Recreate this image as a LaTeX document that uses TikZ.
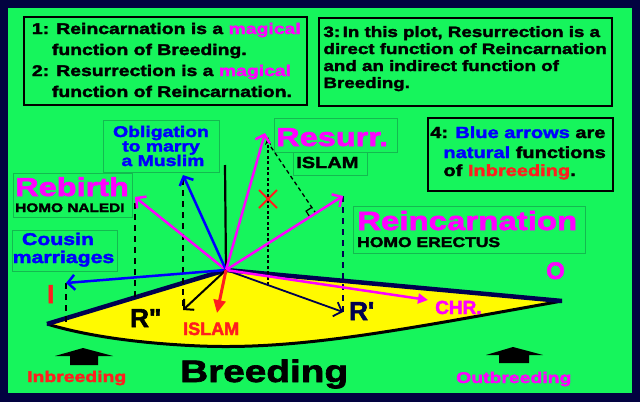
\documentclass[tikz,border=0pt]{standalone}
\usepackage{fontspec}
\usetikzlibrary{arrows.meta,calc}
\newfontfamily\wf{Liberation Sans}[FakeStretch=1.25, BoldFeatures={FakeBold=2.2}]
\newfontfamily\nf{Liberation Sans}[BoldFeatures={FakeBold=2.2}]
\newcommand\setfs[1]{\fontsize{#1}{#1}\selectfont}
\definecolor{bg}{RGB}{22,245,92}
\definecolor{frame}{RGB}{2,2,64}
\definecolor{mag}{RGB}{255,0,255}
\definecolor{blu}{RGB}{0,0,255}
\definecolor{rd}{RGB}{255,30,30}
\definecolor{yel}{RGB}{255,250,0}
\definecolor{boxln}{RGB}{20,185,80}
\definecolor{navy}{RGB}{0,0,80}
\tikzset{
  t/.style={inner sep=0pt, anchor=base west},
  tc/.style={inner sep=0pt, anchor=base},
  blackbox/.style={draw=black, line width=1.6pt, inner sep=0pt, anchor=north west},
  greenbox/.style={draw=boxln, line width=0.8pt, inner sep=0pt, anchor=north west},
  vhead/.style={-{Straight Barb[length=7pt,width=15pt]}},
  magarrow/.style={draw=mag, line width=2.5pt, vhead},
  bluarrow/.style={draw=blu, line width=2.5pt, vhead},
  proj/.style={draw=black, line width=2.6pt, dash pattern=on 6pt off 5pt},
}
\begin{document}
\begin{tikzpicture}[x=1pt,y=-1pt]
\useasboundingbox (0,0) rectangle (640,402);
\fill[frame] (0,0) rectangle (640,402);
\fill[bg] (8,8) rectangle (632,393);

% ---------- text boxes ----------
\node[blackbox, minimum width=283pt, minimum height=88pt] (b1) at (23,16) {};
\node[t, font=\wf\bfseries\setfs{15.5}] (b1l1) at (31.7,34) {1: Reincarnation is a \textcolor{mag}{magical}};
\node[t, font=\wf\bfseries\setfs{15.5}] (b1l2) at (51.7,55) {function of Breeding.};
\node[t, font=\wf\bfseries\setfs{15.5}] (b1l3) at (31.7,76) {2: Resurrection is a \textcolor{mag}{magical}};
\node[t, font=\wf\bfseries\setfs{15.5}] (b1l4) at (51.7,97) {function of Reincarnation.};

\node[blackbox, minimum width=293pt, minimum height=88pt] (b3) at (318,17) {};
\node[t, font=\wf\bfseries\setfs{15}] (b3l1) at (323.3,37) {3:\,In this plot, Resurrection is a};
\node[t, font=\wf\bfseries\setfs{15}] (b3l2) at (323.3,54) {direct function of Reincarnation};
\node[t, font=\wf\bfseries\setfs{15}] (b3l3) at (323.3,71) {and an indirect function of};
\node[t, font=\wf\bfseries\setfs{15}] (b3l4) at (323.3,88) {Breeding.};

\node[blackbox, minimum width=185pt, minimum height=73pt] (b4) at (427,117) {};
\node[t, font=\wf\bfseries\setfs{16}] (b4l1) at (430,138) {4: \textcolor{blu}{Blue arrows} are};
\node[t, font=\wf\bfseries\setfs{16}] (b4l2) at (443.3,158) {\textcolor{blu}{natural} functions};
\node[t, font=\wf\bfseries\setfs{16}] (b4l3) at (443.3,176) {of \textcolor{rd}{Inbreeding}.};

% ---------- label boxes ----------
\node[greenbox, minimum width=116pt, minimum height=52pt] (obox) at (103,120) {};
\node[tc, font=\wf\bfseries\setfs{15.5}, text=blu] (ol1) at (161,137) {Obligation};
\node[tc, font=\wf\bfseries\setfs{15.5}, text=blu] (ol2) at (161,151.5) {to marry};
\node[tc, font=\wf\bfseries\setfs{15.5}, text=blu] (ol3) at (163,166) {a Muslim};

\node[greenbox, minimum width=119pt, minimum height=44pt] (rbbox) at (13,173) {};
\node[t, font=\wf\bfseries\setfs{26}, text=mag] (rb) at (15,196) {Rebirth};
\node[t, font=\wf\bfseries\setfs{12.3}] (hn) at (15,212) {HOMO NALEDI};

\node[greenbox, minimum width=105pt, minimum height=41pt] (cbox) at (12,230) {};
\node[tc, font=\wf\bfseries\setfs{17}, text=blu] (cl1) at (58,245) {Cousin};
\node[tc, font=\wf\bfseries\setfs{17}, text=blu] (cl2) at (63.5,263) {marriages};

\node[greenbox, minimum width=123pt, minimum height=34pt] (rsbox) at (274,118) {};
\node[t, font=\wf\bfseries\setfs{26}, text=mag] (rs) at (276,146) {Resurr.};
\node[greenbox, minimum width=74pt, minimum height=23pt] (isbox) at (293,152) {};
\node[t, font=\wf\bfseries\setfs{16}] (is) at (296,168) {ISLAM};

\node[greenbox, minimum width=232pt, minimum height=47pt] (rcbox) at (353,206) {};
\node[t, font=\wf\bfseries\setfs{26.4}, text=mag] (rc) at (357,230) {Reincarnation};
\node[t, font=\wf\bfseries\setfs{14}] (he) at (357,247) {HOMO ERECTUS};

% ---------- key points ----------
\coordinate (C) at (226,270);
\coordinate (Pres) at (265,133);
\coordinate (Prein) at (343,196);
\coordinate (Preb) at (135,197);
\coordinate (Pobl) at (183,175);
\coordinate (PI) at (66,283);
\coordinate (Pup) at (225,165);
\coordinate (PRpp) at (183,310);
\coordinate (PRp) at (343,312);
\coordinate (Pchr) at (428,300);
\coordinate (Pislam) at (217,313);
\coordinate (Ltip) at (47,324);
\coordinate (Rtip) at (562,301);
\coordinate (Ptop) at (268,137);
\coordinate (Pbot) at (268,285);

% ---------- lens ----------
\fill[yel] (Ltip) -- (C) -- (Rtip) .. controls (400,330) and (300,350) .. (200,346)
   .. controls (130,343) and (80,334) .. (Ltip) -- cycle;
\draw[black, line width=3pt] (Rtip) .. controls (400,330) and (300,350) .. (200,346)
   .. controls (130,343) and (80,334) .. (Ltip);
\draw[navy, line width=4.5pt, line join=round] (Ltip) -- (C) -- (Rtip);

% ---------- projections ----------
\draw[proj] (Preb) ++(0,6) coordinate (Preb2) (Preb2) -- (135,300) coordinate (Rbfoot);
\draw[proj] (Pobl) ++(0,4) coordinate (Pobl2) (Pobl2) -- (PRpp);
\draw[proj] (PI) -- (66,322) coordinate (Ifoot);
\draw[navy, line width=2.6pt, dash pattern=on 6pt off 5pt] (Prein) -- (PRp);
\draw[black, line width=1.6pt, dash pattern=on 3pt off 2.5pt, -{Stealth[length=8pt,width=6pt]}] (Pbot) -- (Ptop);
\coordinate (F) at ($(C)!(Pres)!(Prein)$);
\draw[black, line width=1.3pt, dash pattern=on 4pt off 3pt] (Ptop) ++(3,10) coordinate (Pd) (Pd) -- (F);
\coordinate (Fa) at ($(F)!7pt!(C)$);
\coordinate (Fb) at ($(F)!7pt!(Pres)$);
\draw[black, line width=1.2pt] (Fa) -- ($(Fa)+(Fb)-(F)$) -- (Fb);
\draw[rd, line width=2pt] (259,190) -- (277,208) (259,208) -- (277,190);

% ---------- arrows ----------
\draw[black, line width=2.2pt] (C) -- (Pup);
\draw[magarrow] (C) -- (Preb);
\draw[bluarrow] (C) -- (Pobl);
\draw[bluarrow] (C) -- (PI);
\draw[magarrow] (C) -- (Pres);
\draw[magarrow] (C) -- (Prein);
\draw[black, line width=2pt, vhead] (C) -- (PRpp);
\draw[navy, line width=1.8pt, vhead] (C) -- (PRp);
\draw[mag, line width=2.5pt, -{Triangle[length=10pt,width=10pt]}] (C) -- (Pchr);
\draw[rd, line width=3pt, -{Triangle[length=13pt,width=12pt]}] (C) -- (Pislam);

% ---------- lens labels ----------
\node[t, font=\nf\bfseries\setfs{26}, text=rd] (lI) at (47,303) {I};
\node[t, font=\nf\bfseries\setfs{24}, text=mag] (lO) at (546,279) {O};
\node[t, font=\nf\bfseries\setfs{26}] (lRpp) at (130,327) {R\textquotedbl};
\node[t, font=\nf\bfseries\setfs{18}, text=rd] (lis) at (183,335) {ISLAM};
\node[t, font=\nf\bfseries\setfs{26}, text=navy] (lRp) at (349,320) {R\textquotesingle};
\node[t, font=\nf\bfseries\setfs{19}, text=mag] (lchr) at (435,314) {CHR.};

% ---------- bottom ----------
\fill[black] (83,348) -- (113,356) -- (98,356) -- (98,365) -- (70,365) -- (70,356) -- (55,356) -- cycle;
\fill[black] (513,347) -- (543,355) -- (529,355) -- (529,363) -- (499,363) -- (499,355) -- (486,355) -- cycle;
\node[t, font=\wf\bfseries\setfs{31}] (br) at (180,382) {Breeding};
\node[t, font=\wf\bfseries\setfs{15.5}, text=rd] (ib) at (27,382) {Inbreeding};
\node[t, font=\wf\bfseries\setfs{15.5}, text=mag] (ob) at (456,383) {Outbreeding};
\end{tikzpicture}
\end{document}
